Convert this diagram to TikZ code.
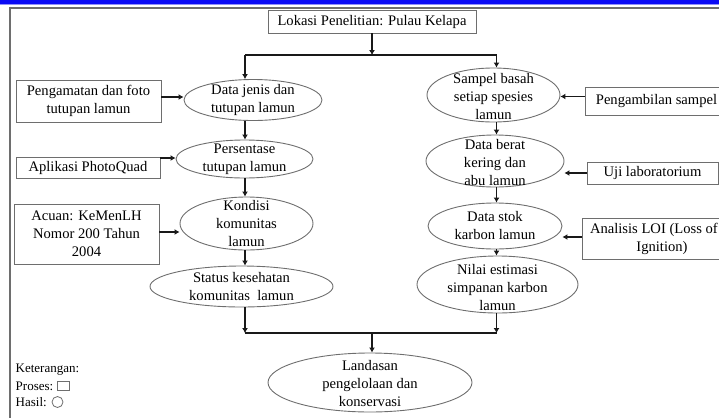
\documentclass[tikz,border=0pt]{standalone}
\usepackage{fontspec}
\setmainfont{Liberation Serif}
\usetikzlibrary{shapes.geometric,arrows.meta}
\definecolor{barblue}{RGB}{10,10,245}
\definecolor{edgegray}{RGB}{110,110,110}
\begin{document}
\begin{tikzpicture}[x=1pt,y=-1pt,
  every node/.style={font=\fontsize{14.6}{18}\selectfont, text=black, inner sep=0pt, align=center},
  procbox/.style={rectangle, draw=edgegray, line width=0.9pt},
  resell/.style={ellipse, draw=edgegray, line width=0.9pt},
  legtext/.style={font=\fontsize{13}{16}\selectfont, anchor=west},
  conn/.style={line width=1.8pt, black!90},
  arr/.style={conn, -{Latex[length=5pt,width=6pt]}},
]
\useasboundingbox (0,0) rectangle (719,418);
% header and frame
\fill[barblue] (0,0) rectangle (719,3.5);
\fill[barblue!45] (0,3.5) rectangle (719,5);
\draw[edgegray, line width=2pt] (9,7.5) -- (719,7.5);
\draw[edgegray, line width=2pt] (10,6.5) -- (10,418);

% top box
\node[procbox, minimum width=208pt, minimum height=23pt] (top) at (372,21.5) {Lokasi Penelitian: Pulau Kelapa};

% left column results
\node[resell, minimum width=138pt, minimum height=41pt, label={center:{Data jenis dan\\tutupan lamun}}] (L1) at (253,100) {};
\node[resell, minimum width=137pt, minimum height=38pt, label={center:{Persentase\\tutupan lamun}}] (L2) at (244.5,159) {};
\node[resell, minimum width=133pt, minimum height=53pt, label={center:{Kondisi\\komunitas\\lamun}}] (L3) at (246.5,223.5) {};
\node[resell, minimum width=183pt, minimum height=41pt, label={center:{Status kesehatan\\komunitas\ \ lamun}}] (L4) at (241.5,286.5) {};

% left processes
\node[procbox, minimum width=145pt, minimum height=42pt] (P1) at (88.5,101) {Pengamatan dan foto\\tutupan lamun};
\node[procbox, minimum width=144pt, minimum height=21pt] (P2) at (88,167.5) {Aplikasi PhotoQuad};
\node[procbox, minimum width=145pt, minimum height=60pt] (P3) at (86.5,234) {Acuan: KeMenLH\\Nomor 200 Tahun\\2004};

% right column results
\node[resell, minimum width=133pt, minimum height=54pt, label={[yshift=-2pt]center:{Sampel basah\\setiap spesies\\lamun}}] (R1) at (493.5,95) {};
\node[resell, minimum width=138pt, minimum height=52pt, label={[yshift=-1.5pt]center:{Data berat\\kering dan\\abu lamun}}] (R2) at (495,161) {};
\node[resell, minimum width=134pt, minimum height=46pt, label={center:{Data stok\\karbon lamun}}] (R3) at (495,226) {};
\node[resell, minimum width=161pt, minimum height=57pt, label={[yshift=-3pt]center:{Nilai estimasi\\simpanan karbon\\lamun}}] (R4) at (497.5,284.5) {};

% right processes
\node[procbox, minimum width=143pt, minimum height=28pt] (Q1) at (656.5,101) {Pengambilan sampel};
\node[procbox, minimum width=131pt, minimum height=22pt] (Q2) at (652.5,173) {Uji laboratorium};
\node[procbox, minimum width=160pt, minimum height=41pt] (Q3) at (662,238.5) {Analisis LOI (Loss of\hphantom{Lo}\\Ignition)};

% final
\node[resell, minimum width=204pt, minimum height=59pt, label={[yshift=-1pt]center:{Landasan\\pengelolaan dan\\konservasi}}] (F) at (370,382.5) {};

% legend
\node[legtext] (ket) at (15.5,370) {Keterangan:};
\node[legtext] (pro) at (15.5,386) {Proses:};
\node[draw=edgegray, line width=0.8pt, minimum width=12pt, minimum height=9pt] (sq) at (63,386) {};
\node[legtext] (has) at (15.5,402) {Hasil:};
\node[circle, draw=edgegray, line width=0.8pt, minimum size=11pt] (ci) at (57.5,402) {};

% connectors
\coordinate (jl) at (245,55);
\coordinate (jr) at (496.5,55);
\coordinate (cl) at (245,0);
\coordinate (cr) at (496.5,0);
\coordinate (bl) at (245,333);
\coordinate (br) at (496.5,333);
\coordinate (bm) at (372,333);

\draw[conn] (jl) -- (jr);
\draw[arr] (top.south) -- (top.south |- jl);
\draw[arr] (jl) -- (cl |- L1.north);
\draw[arr] (jr) -- (cr |- R1.north);

\draw[arr] (cl |- L1.south) -- (cl |- L2.north);
\draw[arr] (cl |- L2.south) -- (cl |- L3.north);
\draw[arr] (cl |- L3.south) -- (cl |- L4.north);
\draw[arr] (cl |- L4.south) -- (bl);

\draw[arr] (cr |- R1.south) -- (cr |- R2.north);
\draw[arr] (cr |- R2.south) -- (cr |- R3.north);
\draw[arr] (cr |- R3.south) -- (cr |- R4.north);
\draw[arr] (cr |- R4.south) -- (br);

\draw[conn] (bl) -- (br);
\draw[arr] (bm) -- (bm |- F.north);

\draw[arr] ([yshift=4pt]P1.east) -- ([yshift=4pt]P1.east -| L1.west);
\draw[arr] ([yshift=9.5pt]P2.east) -- ([yshift=9.5pt]P2.east -| L2.west);
\draw[arr] ([yshift=2pt]P3.east) -- ([yshift=2pt]P3.east -| L3.west);

\draw[arr] ([yshift=4.5pt]Q1.west) -- ([yshift=4.5pt]Q1.west -| R1.east);
\draw[arr] (Q2.west) -- (Q2.west -| R2.east);
\draw[arr] ([yshift=1.5pt]Q3.west) -- ([yshift=1.5pt]Q3.west -| R3.east);
\end{tikzpicture}
\end{document}
